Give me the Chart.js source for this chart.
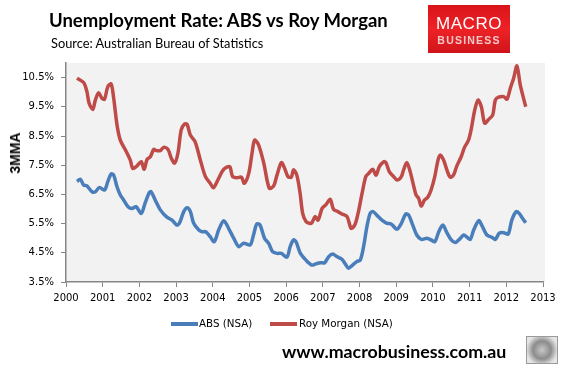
<!DOCTYPE html>
<html>
<head>
<meta charset="utf-8">
<script src="https://cdn.jsdelivr.net/npm/chart.js@4/dist/chart.umd.min.js"></script>
<style>
  html, body { margin: 0; padding: 0; background: #ffffff; }
  body { width: 564px; height: 372px; position: relative; overflow: hidden; }
  #c { position: absolute; left: 0; top: 0; }
  .t { position: absolute; white-space: nowrap; color: #000; }
  #title { left: 49px; top: 8px; font: bold 18.5px Lato, sans-serif; line-height: 24px; }
  #sub { left: 51px; top: 35px; font: 12.8px Lato, sans-serif; line-height: 16px; }
  #ytitle { left: 15px; top: 153px; font: bold 14px "Liberation Sans", sans-serif; transform: translate(-50%, -50%) rotate(-90deg); }
  #logo { position: absolute; left: 428px; top: 5px; width: 82px; height: 48px;
          background: linear-gradient(180deg, #d8141a 0%, #ee2227 50%, #d0141a 100%); }
  #logo .m { position: absolute; left: 0; width: 82px; top: 9px; text-align: center; color: #fff; font: 17px "Liberation Sans", sans-serif; letter-spacing: 0.5px; line-height: 20px; }
  #logo .b { position: absolute; left: 0; width: 82px; top: 28px; text-align: center; color: #f2c8c8; font: bold 10.5px "Liberation Sans", sans-serif; letter-spacing: 1.2px; line-height: 14px; }
  .leg { position: absolute; top: 316px; font: 10.3px "DejaVu Sans", sans-serif; line-height: 14px; color: #000; }
  .legline { position: absolute; top: 322px; height: 4px; width: 27px; }
  #url { left: 282px; top: 340px; font: bold 17.8px Lato, sans-serif; line-height: 22px; }
  #wolf { position: absolute; left: 526px; top: 336px; width: 30px; height: 26px; border: 1.5px solid #9a9a9a;
          background: radial-gradient(circle at 50% 50%, #c8c8c8 0%, #8c8c8c 45%, #e6e6e6 80%); }
</style>
</head>
<body>
<canvas id="c" width="564" height="372"></canvas>
<div class="t" id="title">Unemployment Rate: ABS vs Roy Morgan</div>
<div class="t" id="sub">Source: Australian Bureau of Statistics</div>
<div class="t" id="ytitle">3MMA</div>
<div id="logo"><div class="m">MACRO</div><div class="b">BUSINESS</div></div>
<div class="legline" style="left:171px;background:#4a7ebb"></div>
<div class="leg" style="left:199px">ABS (NSA)</div>
<div class="legline" style="left:270px;background:#be4b48"></div>
<div class="leg" style="left:299px">Roy Morgan (NSA)</div>
<div class="t" id="url">www.macrobusiness.com.au</div>
<div id="wolf"></div>
<script>
// ---- Data ----
const xTickYears = [2000,2001,2002,2003,2004,2005,2006,2007,2008,2009,2010,2011,2012,2013];
const yTickValues = [3.5,4.5,5.5,6.5,7.5,8.5,9.5,10.5];

const absDates = [2000.30,2000.39,2000.48,2000.57,2000.71,2000.80,2000.91,2001.05,2001.14,2001.23,2001.30,2001.39,2001.48,2001.57,2001.69,2001.80,2001.91,2002.05,2002.16,2002.27,2002.32,2002.43,2002.57,2002.75,2002.89,2003.02,2003.09,2003.21,2003.30,2003.39,2003.48,2003.62,2003.71,2003.81,2003.93,2004.04,2004.16,2004.30,2004.43,2004.57,2004.71,2004.84,2005.02,2005.11,2005.20,2005.29,2005.41,2005.52,2005.63,2005.75,2005.87,2006.02,2006.11,2006.20,2006.27,2006.38,2006.54,2006.70,2006.81,2006.93,2007.05,2007.16,2007.27,2007.38,2007.52,2007.61,2007.70,2007.81,2007.93,2008.02,2008.11,2008.20,2008.29,2008.37,2008.47,2008.61,2008.75,2008.86,2009.02,2009.14,2009.26,2009.34,2009.45,2009.56,2009.68,2009.84,2009.95,2010.05,2010.16,2010.27,2010.38,2010.50,2010.61,2010.72,2010.84,2010.93,2011.02,2011.11,2011.25,2011.34,2011.47,2011.61,2011.70,2011.81,2011.93,2012.05,2012.15,2012.27,2012.35,2012.44,2012.53];
const absValues = [6.94,7.02,6.82,6.79,6.59,6.59,6.74,6.65,6.94,7.20,7.16,6.76,6.48,6.31,6.08,6.02,6.08,5.85,6.22,6.56,6.59,6.31,5.97,5.72,5.62,5.45,5.51,5.91,6.04,5.91,5.51,5.28,5.22,5.22,5.05,4.88,5.28,5.60,5.34,5.00,4.71,4.83,4.77,5.11,5.49,5.45,5.00,4.83,4.54,4.48,4.48,4.35,4.71,4.94,4.88,4.50,4.25,4.08,4.12,4.16,4.16,4.37,4.46,4.37,4.28,4.12,3.97,4.08,4.20,4.25,4.71,5.39,5.85,5.91,5.79,5.62,5.51,5.49,5.31,5.51,5.83,5.79,5.45,5.11,4.96,5.00,4.94,4.88,5.22,5.45,5.19,4.94,4.85,4.96,5.11,5.03,4.96,5.28,5.60,5.42,5.11,5.03,4.96,5.17,5.19,5.14,5.62,5.91,5.85,5.68,5.53];

const rmDates = [2000.30,2000.48,2000.57,2000.63,2000.73,2000.80,2000.89,2000.98,2001.05,2001.14,2001.23,2001.30,2001.39,2001.48,2001.62,2001.75,2001.82,2001.93,2002.05,2002.13,2002.21,2002.30,2002.39,2002.46,2002.57,2002.66,2002.78,2002.87,2002.96,2003.05,2003.14,2003.23,2003.30,2003.39,2003.52,2003.66,2003.80,2003.93,2004.02,2004.16,2004.30,2004.46,2004.54,2004.66,2004.78,2004.86,2004.98,2005.07,2005.14,2005.25,2005.39,2005.54,2005.66,2005.75,2005.87,2005.96,2006.05,2006.14,2006.20,2006.29,2006.38,2006.45,2006.54,2006.63,2006.70,2006.79,2006.87,2006.98,2007.08,2007.20,2007.29,2007.41,2007.52,2007.66,2007.77,2007.87,2007.96,2008.07,2008.17,2008.25,2008.36,2008.45,2008.54,2008.66,2008.72,2008.81,2008.93,2009.02,2009.14,2009.20,2009.29,2009.38,2009.47,2009.54,2009.61,2009.68,2009.77,2009.86,2009.95,2010.05,2010.14,2010.20,2010.29,2010.38,2010.47,2010.56,2010.65,2010.77,2010.86,2010.97,2011.04,2011.14,2011.23,2011.32,2011.41,2011.52,2011.63,2011.70,2011.79,2011.93,2012.02,2012.11,2012.20,2012.29,2012.38,2012.47,2012.53];
const rmValues = [10.48,10.33,10.02,9.62,9.41,9.73,9.98,9.79,9.76,10.19,10.28,9.79,8.88,8.36,8.02,7.68,7.39,7.47,7.62,7.36,7.70,7.79,8.04,8.00,8.00,8.11,8.04,7.74,7.57,7.91,8.71,8.91,8.90,8.53,8.30,7.68,7.11,6.88,6.73,7.05,7.36,7.45,7.11,7.07,7.09,6.88,7.22,7.91,8.36,8.19,7.57,6.71,6.79,7.16,7.59,7.39,7.11,7.09,7.34,7.16,6.54,5.85,5.57,5.51,5.53,5.74,5.62,6.02,6.14,6.33,5.99,5.91,5.83,5.74,5.34,5.45,5.85,6.54,7.11,7.22,7.36,7.16,7.45,7.62,7.59,7.28,7.11,6.99,7.11,7.34,7.59,7.28,6.82,6.48,6.37,6.10,6.31,6.40,6.65,7.11,7.68,7.85,7.68,7.34,7.09,7.16,7.47,7.79,8.11,8.36,8.71,9.39,9.73,9.50,8.94,9.07,9.22,9.73,9.83,9.85,9.76,10.14,10.48,10.90,10.25,9.79,9.50];

const toPoints = (xs, ys) => xs.map((x, i) => ({ x: x, y: ys[i] }));

const plotBg = {
  id: 'plotBg',
  beforeDraw(chart) {
    const a = chart.chartArea, ctx = chart.ctx;
    ctx.save();
    ctx.fillStyle = '#f2f2f2';
    ctx.fillRect(a.left, a.top, a.right - a.left + 2, a.bottom - a.top);
    ctx.restore();
  }
};

new Chart(document.getElementById('c'), {
  type: 'line',
  data: {
    datasets: [
      { label: 'ABS (NSA)', data: toPoints(absDates, absValues), borderColor: '#4a7ebb', borderWidth: 3.5, pointRadius: 0, tension: 0.3, fill: false },
      { label: 'Roy Morgan (NSA)', data: toPoints(rmDates, rmValues), borderColor: '#be4b48', borderWidth: 3.5, pointRadius: 0, tension: 0.3, fill: false }
    ]
  },
  options: {
    responsive: false,
    animation: false,
    devicePixelRatio: 1,
    layout: { padding: { left: 0, top: 63, right: 21, bottom: 0 } },
    plugins: { legend: { display: false }, tooltip: { enabled: false } },
    scales: {
      x: {
        type: 'linear', min: 2000, max: 2013,
        afterBuildTicks: s => { s.ticks = xTickYears.map(v => ({ value: v })); },
        afterFit: s => { s.height = 90; },
        ticks: { font: { family: 'DejaVu Sans', size: 10 }, color: '#000', padding: 5, maxRotation: 0, autoSkip: false, callback: v => String(v) },
        grid: { drawOnChartArea: false, drawTicks: true, tickLength: 5, color: '#868686', lineWidth: 1 },
        border: { display: true, color: '#868686', width: 1.5 }
      },
      y: {
        type: 'linear', min: 3.5, max: 11,
        afterBuildTicks: s => { s.ticks = yTickValues.map(v => ({ value: v })); },
        afterFit: s => { s.width = 66; },
        ticks: { font: { family: 'DejaVu Sans', size: 10 }, color: '#000', padding: 7, autoSkip: false, callback: v => v.toFixed(1) + '%' },
        grid: { drawOnChartArea: false, drawTicks: true, tickLength: 5, color: '#868686', lineWidth: 1 },
        border: { display: true, color: '#868686', width: 1.5 }
      }
    }
  },
  plugins: [plotBg]
});
</script>
</body>
</html>
